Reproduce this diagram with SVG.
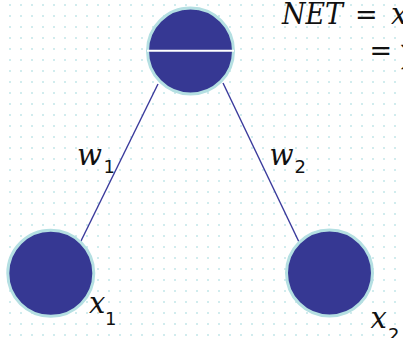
<svg xmlns="http://www.w3.org/2000/svg" width="403" height="338" viewBox="0 0 403 338">
  <defs>
    <pattern id="dots" x="0" y="0" width="11" height="11" patternUnits="userSpaceOnUse">
      <circle cx="10" cy="5" r="1" fill="#c2e6e9"/>
    </pattern>
  </defs>
  <style>
    .node { fill: #363893; stroke: #b4dfe2; stroke-width: 3; }
    .edge { stroke: #3a3a9c; stroke-width: 1.4; fill: none; }
    .m { font-family: "DejaVu Serif", "Liberation Serif", serif; font-style: italic; font-size: 29px; fill: #111111; }
    .sub { font-family: "DejaVu Sans", "Liberation Sans", sans-serif; font-size: 18px; fill: #111111; }
    .eq { font-family: "DejaVu Serif", "Liberation Serif", serif; font-size: 27px; fill: #111111; }
  </style>
  <rect width="403" height="338" fill="#ffffff"/>
  <rect width="403" height="338" fill="url(#dots)"/>

  <g id="connectors">
    <line class="edge" x1="158" y1="84" x2="80" y2="243"/>
    <line class="edge" x1="223" y1="83" x2="299" y2="242"/>
  </g>

  <g id="node-net">
    <circle class="node" cx="190.5" cy="51" r="43"/>
    <line x1="147" y1="50.7" x2="234" y2="50.7" stroke="#ffffff" stroke-width="2"/>
  </g>
  <g id="node-x1">
    <circle class="node" cx="50.8" cy="273.3" r="43"/>
  </g>
  <g id="node-x2">
    <circle class="node" cx="329.5" cy="273" r="43"/>
  </g>

  <g id="labels">
    <text class="m" x="77" y="165" textLength="25" lengthAdjust="spacingAndGlyphs">w</text><text class="sub" x="103.5" y="173">1</text>
    <text class="m" x="269.5" y="165" textLength="24" lengthAdjust="spacingAndGlyphs">w</text><text class="sub" x="294.5" y="173">2</text>
    <text class="m" x="89" y="313">x</text><text class="sub" x="105" y="325">1</text>
    <text class="m" x="370.5" y="328">x</text><text class="sub" x="388" y="341">2</text>
  </g>

  <g id="formula">
    <text class="m" x="282" y="24" font-size="28" textLength="61" lengthAdjust="spacingAndGlyphs">NET</text>
    <text class="eq" x="355" y="24">=</text>
    <text class="m" x="391" y="24">x</text>
    <text class="eq" x="369.5" y="60">=</text>
    <text class="eq" x="401" y="64" font-size="34">∑</text>
  </g>
</svg>
